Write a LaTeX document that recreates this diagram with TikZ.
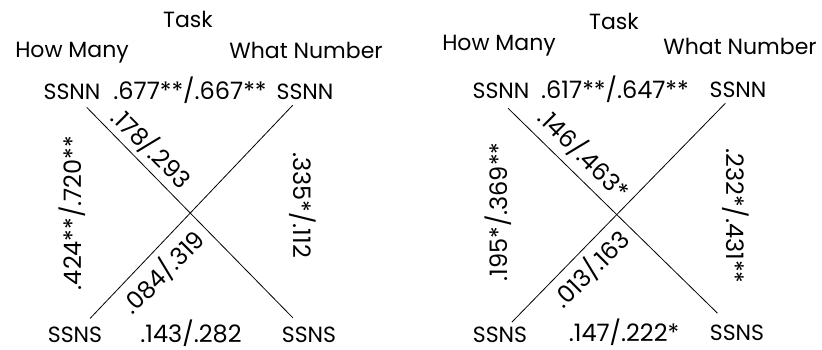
\documentclass[tikz,border=0pt]{standalone}
\usepackage{fontspec}
\setmainfont{Poppins}
\usepackage{tikz}
\usetikzlibrary{positioning,calc}

\begin{document}
\begin{tikzpicture}[
  x=1pt,y=-1pt,
  every node/.style={inner sep=2pt},
  head/.style={anchor=base,font=\fontsize{22}{26}\selectfont},
  cond/.style={anchor=base,font=\fontsize{22}{26}\selectfont},
  corr/.style={anchor=base,font=\fontsize{24}{28}\selectfont,inner sep=1pt},
  rcorr/.style={font=\fontsize{24}{28}\selectfont,inner sep=1pt},
  cross/.style={line width=0.8pt,black}]
  \useasboundingbox (0,0) rectangle (822,350);
  % left panel
  \node[head] (taskA) at (188,28) {Task};
  \node[head] (hmA) at (72,58) {How Many};
  \node[head] (wnA) at (306,59) {What Number};
  \node[cond] (nnlA) at (72,100) {SSNN};
  \node[cond] (nnrA) at (305,100) {SSNN};
  \node[cond] (nslA) at (75,342) {SSNS};
  \node[cond] (nsrA) at (309,342) {SSNS};
  \node[corr] (topA) at (190,100) {.677**/.667**};
  \node[corr] (botA) at (191,342) {.143/.282};
  \node[rcorr,rotate=90] (leftA) at (72,213) {.424**/.720**};
  \node[rcorr,rotate=-90] (rightA) at (303,205) {.335*/.112};
  \node[rcorr,rotate=-45] (diagdA) at (152,148) {.178/.293};
  \node[rcorr,rotate=45] (diaguA) at (163,272) {.084/.319};
  \draw[cross,shorten <=7pt,shorten >=9pt] (nnlA) -- (nsrA);
  \draw[cross,shorten <=8pt,shorten >=4pt] (nslA) -- (nnrA);
  % right panel
  \begin{scope}[xshift=411pt]
  \node[head] (taskB) at (203,30) {Task};
  \node[head] (hmB) at (88,51) {How Many};
  \node[head] (wnB) at (329,55) {What Number};
  \node[cond] (nnlB) at (90,99) {SSNN};
  \node[cond] (nnrB) at (327,98) {SSNN};
  \node[cond] (nslB) at (89,342) {SSNS};
  \node[cond] (nsrB) at (326,340) {SSNS};
  \node[corr] (topB) at (204,99) {.617**/.647**};
  \node[corr] (botB) at (213,341) {.147/.222*};
  \node[rcorr,rotate=90] (leftB) at (87,212) {.195*/.369**};
  \node[rcorr,rotate=-90] (rightB) at (325,216) {.232*/.431**};
  \node[rcorr,rotate=-45] (diagdB) at (173,154) {.146/.463*};
  \node[rcorr,rotate=45] (diaguB) at (180,269) {.013/.163};
  \draw[cross,shorten <=10pt,shorten >=13pt] (nnlB.south) -- (nsrB);
  \draw[cross,shorten <=3pt,shorten >=4pt] (nslB) -- (nnrB);
  \end{scope}
\end{tikzpicture}
\end{document}
